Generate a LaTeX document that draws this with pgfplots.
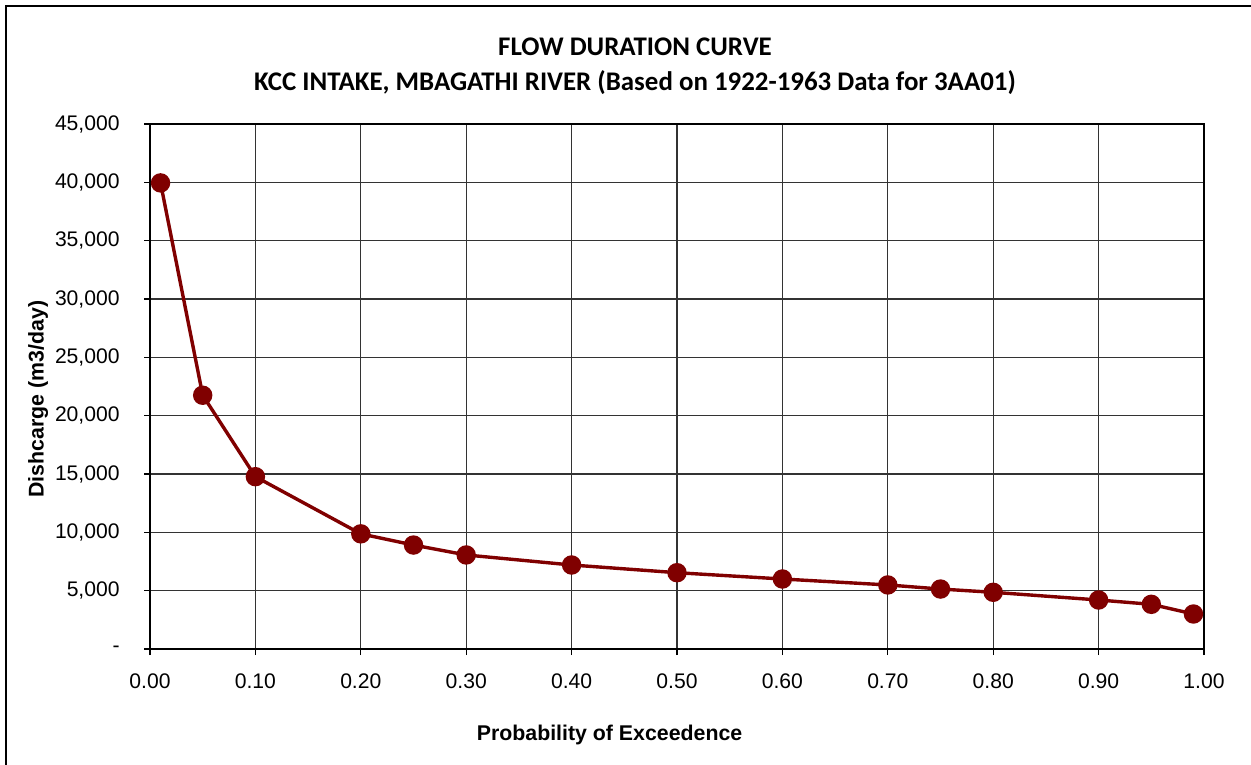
\documentclass[border=0pt]{standalone}
\usepackage{pgfplots}
\pgfplotsset{compat=1.18}
\usepackage{fontspec}
\setmainfont{Liberation Sans}
\newfontfamily\calibri{Carlito}
\definecolor{flowred}{RGB}{128,0,0}

\begin{document}
\begin{tikzpicture}
\useasboundingbox (0,0) rectangle (625.5bp,382.5bp);
% chart area border
\draw[line width=1bp] (3bp,-20bp) rectangle (650bp,379.5bp);

% chart title
\node[font={\calibri\bfseries\fontsize{13.5}{15}\selectfont}, anchor=center] at (317.5bp,359bp) {FLOW DURATION CURVE};
\node[font={\calibri\bfseries\fontsize{13.5}{15}\selectfont}, anchor=center] at (317.5bp,341bp) {KCC INTAKE, MBAGATHI RIVER (Based on 1922-1963 Data for 3AA01)};

\begin{axis}[
  at={(75bp,58bp)}, anchor=south west,
  scale only axis,
  width=527bp, height=262.5bp,
  xmin=0, xmax=1, ymin=0, ymax=45000,
  xtick={0,0.1,...,1.0},
  ytick={0,5000,...,45000},
  yticklabels={{-\hspace{9.5bp}},{5,000},{10,000},{15,000},{20,000},{25,000},{30,000},{35,000},{40,000},{45,000}},
  scaled x ticks=false, scaled y ticks=false,
  /pgf/number format/fixed,
  /pgf/number format/fixed zerofill,
  /pgf/number format/precision=2,
  /pgf/number format/assume math mode=true,
  tick label style={font=\fontsize{10.6}{12}\selectfont, inner sep=0pt},
  xticklabel style={anchor=north, yshift=-9.4bp},
  yticklabel style={anchor=east, xshift=-12bp},
  tick pos=left,
  tick align=outside,
  major tick length=3bp,
  tick style={black, line width=0.6bp},
  axis line style={black, line width=1bp},
  grid=major,
  major grid style={black!80, line width=0.6bp},
  xlabel={Probability of Exceedence},
  ylabel={Dishcarge (m3/day)},
  label style={font=\bfseries\fontsize{10.7}{12}\selectfont},
  xlabel style={at={(axis description cs:0.436,-0.164)}, anchor=center},
  ylabel style={at={(axis description cs:-0.106,0.476)}, anchor=center},
  clip=false,
]
\addplot[color=flowred, line width=1.7bp, mark=*, mark size=4bp, mark options={fill=flowred, draw=flowred}]
coordinates {
  (0.01,39950)
  (0.05,21750)
  (0.10,14770)
  (0.20,9870)
  (0.25,8910)
  (0.30,8060)
  (0.40,7200)
  (0.50,6540)
  (0.60,6000)
  (0.70,5490)
  (0.75,5140)
  (0.80,4860)
  (0.90,4200)
  (0.95,3830)
  (0.99,3000)
};
\end{axis}
\end{tikzpicture}
\end{document}
